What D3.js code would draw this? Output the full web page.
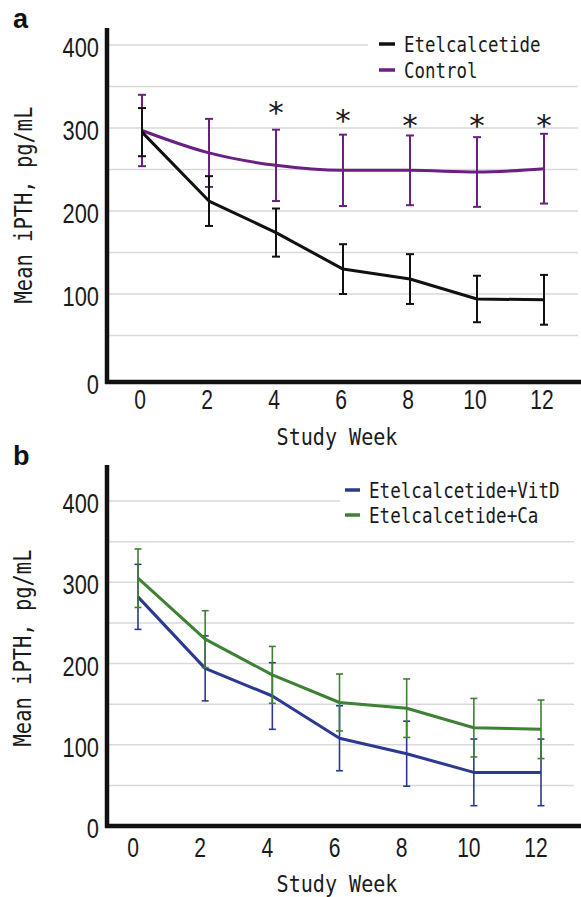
<!DOCTYPE html>
<html>
<head>
<meta charset="utf-8">
<script src="https://cdn.jsdelivr.net/npm/d3@7"></script>
<style>
  body { margin: 0; background: #fff; }
  svg { display: block; }
</style>
</head>
<body>
<svg id="chart" width="581" height="897"></svg>
<script>
// Study weeks and axis ticks
const weeks = [0, 2, 4, 6, 8, 10, 12];
const yTicks = [0, 100, 200, 300, 400];
const gridValues = [50, 100, 150, 200, 250, 300, 350, 400];

// Panel a: mean iPTH (pg/mL) with SD
const etelMean = [295, 212, 174, 130, 118, 94, 93];
const etelSD = [29, 30, 29, 30, 30, 28, 30];
const controlMean = [297, 270, 255, 249, 249, 247, 251];
const controlSD = [43, 41, 43, 43, 42, 42, 42];
// Significance markers (week, height in pg/mL)
const sigWeeks = [4, 6, 8, 10, 12];
const sigLevel = [329, 319, 313, 313, 313];

// Panel b: mean iPTH (pg/mL) with SD
const vitdMean = [282, 194, 160, 108, 89, 66, 66];
const vitdSD = [40, 40, 41, 40, 40, 41, 41];
const caMean = [305, 230, 186, 152, 145, 121, 119];
const caSD = [36, 35, 35, 35, 36, 36, 36];

const svg = d3.select("#chart");
const MONO = "'DejaVu Sans Mono', 'Liberation Mono', monospace";
const NUM = "'Liberation Sans', Arial, sans-serif";

// Text squeezed horizontally to a target width (narrow typeface look)
function squeezed(parent, x, y, str, opts) {
  const holder = parent.append("g");
  const t = holder.append("text")
    .attr("dy", "0.36em")
    .attr("font-family", opts.family).attr("font-size", opts.size)
    .attr("fill", "#1a1a1a")
    .attr("text-anchor", opts.anchor || "start")
    .text(str);
  const natural = t.node().getComputedTextLength();
  const sx = opts.width ? opts.width / natural : (opts.sx || 1);
  holder.attr("transform", `translate(${x},${y}) ${opts.rotate ? "rotate(" + opts.rotate + ") " : ""}scale(${sx},1)`);
  return holder;
}

function drawPanel(cfg) {
  const g = svg.append("g");
  const x = d3.scaleLinear().domain([0, 12]).range(cfg.xRange);
  const y = d3.scaleLinear().domain([0, 400]).range(cfg.yRange);

  // gridlines
  g.selectAll(".grid").data(gridValues).join("line")
    .attr("x1", cfg.gridX[0]).attr("x2", cfg.gridX[1])
    .attr("y1", d => y(d)).attr("y2", d => y(d))
    .attr("stroke", "#d9d9d9").attr("stroke-width", 1.5);

  // legend background hides the grid underneath
  g.append("rect")
    .attr("x", cfg.legendBox[0]).attr("y", cfg.legendBox[1])
    .attr("width", cfg.legendBox[2]).attr("height", cfg.legendBox[3])
    .attr("fill", "#fff");

  // series (error bars, then line)
  cfg.series.forEach(s => {
    const pts = weeks.map((w, i) => ({ w, m: s.mean[i], sd: s.sd[i] }));
    const eb = g.append("g");
    eb.selectAll("line.v").data(pts).join("line")
      .attr("x1", d => x(d.w)).attr("x2", d => x(d.w))
      .attr("y1", d => y(d.m + d.sd)).attr("y2", d => y(d.m - d.sd))
      .attr("stroke", s.color).attr("stroke-width", cfg.ebWidth);
    [1, -1].forEach(sign => {
      eb.selectAll("line.c" + sign).data(pts).join("line")
        .attr("x1", d => x(d.w) - cfg.cap).attr("x2", d => x(d.w) + cfg.cap)
        .attr("y1", d => y(d.m + sign * d.sd)).attr("y2", d => y(d.m + sign * d.sd))
        .attr("stroke", s.color).attr("stroke-width", cfg.ebWidth);
    });
    g.append("path")
      .datum(pts)
      .attr("fill", "none").attr("stroke", s.color)
      .attr("stroke-width", cfg.lineWidth).attr("stroke-linejoin", "round")
      .attr("d", d3.line().x(d => x(d.w)).y(d => y(d.m)).curve(s.curve || d3.curveLinear));
  });

  // axes
  const axisY = y(0) + cfg.axisDrop;
  g.append("line")
    .attr("x1", cfg.axisX).attr("x2", cfg.axisX)
    .attr("y1", cfg.axisTop).attr("y2", axisY + 2)
    .attr("stroke", "#111").attr("stroke-width", 4.5);
  g.append("line")
    .attr("x1", cfg.axisX - 2).attr("x2", 581)
    .attr("y1", axisY).attr("y2", axisY)
    .attr("stroke", "#111").attr("stroke-width", 4.5);

  // y tick labels
  yTicks.forEach(v => {
    squeezed(g, 99, v === 0 ? axisY + 2 : y(v) + 2, String(v),
      { family: NUM, size: 28, sx: 0.78, anchor: "end" });
  });

  // x tick labels
  weeks.forEach(w => {
    squeezed(g, x(w) + cfg.xLabelShift, axisY + cfg.xLabelDrop, String(w),
      { family: NUM, size: 27, sx: 0.78, anchor: "middle" });
  });

  // axis titles
  squeezed(g, cfg.yTitle[0], cfg.yTitle[1], "Mean iPTH, pg/mL",
    { family: MONO, size: 25, width: 197, anchor: "middle", rotate: -90 });
  squeezed(g, cfg.xTitle[0], cfg.xTitle[1], "Study Week",
    { family: MONO, size: 23, width: 121, anchor: "middle" });

  // legend
  cfg.legend.forEach((s, i) => {
    const ly = cfg.legendY[i];
    g.append("line")
      .attr("x1", cfg.legendSwatch[0]).attr("x2", cfg.legendSwatch[1])
      .attr("y1", ly).attr("y2", ly)
      .attr("stroke", s.color).attr("stroke-width", 3.5);
    squeezed(g, cfg.legendText, ly, s.name,
      { family: MONO, size: 21, width: s.name.length * cfg.charW });
  });

  // panel letter
  g.append("text")
    .attr("x", 13).attr("y", cfg.letterY)
    .attr("font-family", NUM).attr("font-weight", "bold").attr("font-size", 27)
    .attr("fill", "#111").text(cfg.letter);

  return { g, x, y };
}

// Panel a
const etel = { name: "Etelcalcetide", mean: etelMean, sd: etelSD, color: "#111111" };
const control = { name: "Control", mean: controlMean, sd: controlSD, color: "#6b1f82", curve: d3.curveMonotoneX };
const pa = drawPanel({
  letter: "a", letterY: 28,
  xRange: [142, 544], yRange: [377, 45],
  gridX: [109, 578], axisX: 107, axisTop: 28, axisDrop: 5,
  xLabelShift: -2, xLabelDrop: 17,
  yTitle: [23, 205], xTitle: [337, 437],
  legendBox: [368, 28, 213, 55], legendY: [44, 70], legendSwatch: [379, 395],
  legendText: 404, charW: 10.5,
  cap: 4, ebWidth: 2, lineWidth: 3,
  series: [control, etel],
  legend: [etel, control]
});

// significance asterisks
pa.g.selectAll(".sig").data(sigWeeks).join("text")
  .attr("x", d => pa.x(d))
  .attr("y", (d, i) => pa.y(sigLevel[i]))
  .attr("text-anchor", "middle").attr("dy", "0.62em")
  .attr("font-family", "'DejaVu Sans', sans-serif").attr("font-size", 31).attr("fill", "#1a1a1a")
  .text("*");

// Panel b
const vitd = { name: "Etelcalcetide+VitD", mean: vitdMean, sd: vitdSD, color: "#2b3990" };
const ca = { name: "Etelcalcetide+Ca", mean: caMean, sd: caSD, color: "#3c8232" };
drawPanel({
  letter: "b", letterY: 465,
  xRange: [138, 541], yRange: [826, 501],
  gridX: [109, 574], axisX: 107, axisTop: 465, axisDrop: 0,
  xLabelShift: -5, xLabelDrop: 21,
  yTitle: [22, 648], xTitle: [337, 884],
  legendBox: [340, 477, 236, 50], legendY: [490, 515], legendSwatch: [345, 360],
  legendText: 369, charW: 10.6,
  cap: 3.5, ebWidth: 1.6, lineWidth: 3,
  series: [vitd, ca],
  legend: [vitd, ca]
});
</script>
</body>
</html>
